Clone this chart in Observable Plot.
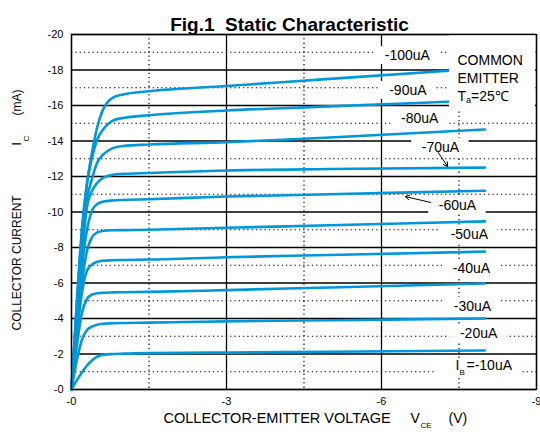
<!DOCTYPE html>
<html><head><meta charset="utf-8">
<script src="https://cdn.jsdelivr.net/npm/d3@7"></script>
<script src="https://cdn.jsdelivr.net/npm/@observablehq/plot@0.6"></script>
<style>body{margin:0;background:#fff;}</style>
</head><body><div id="chart"></div>
<script>
// ---- data ----
const vce   = [0, -0.1, -0.2, -0.3, -0.4, -0.5, -0.6, -0.8, -1.0, -1.5, -3, -5, -8];
const ic10  = [0, -0.5, -0.95, -1.35, -1.65, -1.85, -1.95, -2.0, -2.02, -2.05, -2.08, -2.13, -2.2];
const ic20  = [0, -1.6, -2.8, -3.35, -3.55, -3.65, -3.7, -3.73, -3.75, -3.77, -3.84, -3.9, -4.0];
const ic30  = [0, -2.4, -4.3, -5.1, -5.35, -5.42, -5.45, -5.47, -5.48, -5.5, -5.6, -5.75, -5.97];
const ic40  = [0, -2.9, -5.4, -6.7, -7.05, -7.2, -7.25, -7.28, -7.3, -7.32, -7.45, -7.58, -7.77];
const ic50  = [0, -3.2, -6.0, -7.8, -8.6, -8.85, -8.93, -8.97, -8.98, -9.0, -9.11, -9.25, -9.47];
const ic60  = [0, -3.6, -6.8, -9.0, -10.1, -10.45, -10.58, -10.65, -10.68, -10.72, -10.87, -11.0, -11.2];
const ic70  = [0, -4.0, -7.5, -10.3, -11.2, -11.65, -11.9, -12.1, -12.15, -12.2, -12.34, -12.42, -12.5];
const ic80  = [0, -4.3, -8.0, -10.7, -11.9, -12.8, -13.2, -13.6, -13.72, -13.8, -13.93, -14.2, -14.65];
const ic90  = [0, -4.6, -8.8, -11.6, -13.1, -14.1, -14.6, -15.15, -15.3, -15.45, -15.72, -15.95, -16.3];
const ic100 = [0, -4.8, -9.0, -11.6, -13.4, -14.8, -15.7, -16.45, -16.62, -16.8, -17.1, -17.5, -18.1];
const seriesNames = ["-10uA","-20uA","-30uA","-40uA","-50uA","-60uA","-70uA","-80uA","-90uA","-100uA"];
const seriesValues = [ic10, ic20, ic30, ic40, ic50, ic60, ic70, ic80, ic90, ic100];

const xTicks = [0, -3, -6, -9];
const xMinor = [-1.5, -4.5, -7.5];
const yTicks = [0, -2, -4, -6, -8, -10, -12, -14, -16, -18, -20];
const yMinor = [-1, -3, -5, -7, -9, -11, -13, -15, -17, -19];

const labelText = ["-100uA","-90uA","-80uA","-70uA","-60uA","-50uA","-40uA","-30uA","-20uA"];
const labelV    = [-6.50, -6.51, -6.74, -7.14, -7.47, -7.70, -7.74, -7.76, -7.88];
const labelI    = [-18.82, -16.85, -15.27, -13.63, -10.37, -8.73, -6.82, -4.68, -3.15];

const arrowFromV = [-7.10, -6.95];
const arrowFromI = [-13.35, -10.54];
const arrowToV   = [-7.28, -6.46];
const arrowToI   = [-12.56, -10.87];

const titleText = "Fig.1\u00a0\u00a0Static Characteristic";
// ---- build ----
const table = seriesNames.flatMap((name, k) => vce.map((v, j) => ({ib: name, v, i: seriesValues[k][j]})));
const W = 540, H = 434, mL = 71, mR = 4, mT = 34, mB = 45;
const xk = (W - mL - mR) / 9, yk = (H - mT - mB) / 20;
const FONT = "'Liberation Sans', Arial, Helvetica, sans-serif";
const ctx = document.createElement("canvas").getContext("2d");
ctx.font = "14px " + FONT;
const bg = labelText.map((t, k) => {
  const hw = ctx.measureText(t).width / 2 + 10;
  return {x1: labelV[k] + hw / xk, x2: labelV[k] - hw / xk, y1: labelI[k] + 9 / yk, y2: labelI[k] - 9 / yk};
});
// IB=-10uA label background and the COMMON EMITTER box
bg.push({x1: -(435 - mL) / xk, x2: -(522 - mL) / xk, y1: -(389 - 378) / yk, y2: -(389 - 360) / yk});
bg.push({x1: -(449 - mL) / xk, x2: -(535 - mL) / xk, y1: -(389 - 35) / yk, y2: -(389 - 110) / yk});
const arrows = arrowFromV.map((v, k) => ({x1: v, y1: arrowFromI[k], x2: arrowToV[k], y2: arrowToI[k]}));

const fmt = d => d === 0 ? "-0" : String(d);
const T = (s, o) => Plot.text([s], {text: d => d, fill: "black", ...o});

const chart = Plot.plot({
  width: W, height: H,
  marginLeft: mL, marginRight: mR, marginTop: mT, marginBottom: mB,
  style: {fontFamily: FONT, fontSize: "11px", background: "white", color: "black"},
  x: {domain: [0, -9]},
  y: {domain: [0, -20]},
  marks: [
    Plot.ruleY(yMinor, {stroke: "black", strokeDasharray: "1.3,3", strokeWidth: 1.2}),
    Plot.ruleX(xMinor, {stroke: "black", strokeDasharray: "1.3,3", strokeWidth: 1.2}),
    Plot.ruleY(yTicks, {stroke: "black", strokeWidth: 1.3}),
    Plot.ruleX(xTicks, {stroke: "black", strokeWidth: 1.3}),
    Plot.line(table, {x: "v", y: "i", z: "ib", stroke: "#0096da", strokeWidth: 2.6, curve: "monotone-x"}),
    Plot.rect(bg, {x1: "x1", x2: "x2", y1: "y1", y2: "y2", fill: "white"}),
    Plot.frame({stroke: "black", strokeWidth: 1.3}),
    Plot.axisX({ticks: xTicks, tickSize: 0, tickPadding: 8, tickFormat: fmt, fontSize: 11, label: null}),
    Plot.axisY({ticks: yTicks, tickSize: 0, tickPadding: 8, tickFormat: fmt, fontSize: 11, label: null}),
    Plot.text(labelText, {x: (d, k) => labelV[k], y: (d, k) => labelI[k], text: d => d, fontSize: 14, fill: "black"}),
    Plot.arrow(arrows, {x1: "x1", y1: "y1", x2: "x2", y2: "y2", stroke: "black", strokeWidth: 1, headLength: 7}),
    // IB = -10uA
    T("I", {frameAnchor: "bottom-right", dx: -81, dy: -20, fontSize: 14, textAnchor: "start"}),
    T("B", {frameAnchor: "bottom-right", dx: -77, dy: -15, fontSize: 8, textAnchor: "start"}),
    T("=-10uA", {frameAnchor: "bottom-right", dx: -70, dy: -20, fontSize: 14, textAnchor: "start"}),
    // COMMON EMITTER Ta=25℃
    T("COMMON", {frameAnchor: "top-right", dx: -79, dy: 21, fontSize: 14, textAnchor: "start"}),
    T("EMITTER", {frameAnchor: "top-right", dx: -79, dy: 39, fontSize: 14, textAnchor: "start"}),
    T("T", {frameAnchor: "top-right", dx: -79, dy: 57, fontSize: 14, textAnchor: "start"}),
    T("a", {frameAnchor: "top-right", dx: -70.5, dy: 62, fontSize: 9, textAnchor: "start"}),
    T("=25\u2103", {frameAnchor: "top-right", dx: -65.5, dy: 57, fontSize: 14, textAnchor: "start"}),
    // title
    T(titleText, {frameAnchor: "top", dx: -14.5, dy: -17, fontSize: 19, fontWeight: "bold"}),
    // x label
    T("COLLECTOR-EMITTER VOLTAGE", {frameAnchor: "bottom-left", dx: 92, dy: 33, fontSize: 14.5, textAnchor: "start"}),
    T("V", {frameAnchor: "bottom-left", dx: 339, dy: 33, fontSize: 14, textAnchor: "start"}),
    T("CE", {frameAnchor: "bottom-left", dx: 349, dy: 38, fontSize: 8, textAnchor: "start"}),
    T("(V)", {frameAnchor: "bottom-left", dx: 377, dy: 33, fontSize: 14, textAnchor: "start"}),
    // y label
    T("COLLECTOR CURRENT", {frameAnchor: "bottom-left", dx: -51, dy: -59, fontSize: 12, rotate: -90, textAnchor: "start"}),
    T("I", {frameAnchor: "bottom-left", dx: -51, dy: -244, fontSize: 12, rotate: -90, textAnchor: "start"}),
    T("C", {frameAnchor: "bottom-left", dx: -43, dy: -248, fontSize: 8, rotate: -90, textAnchor: "start"}),
    T("(mA)", {frameAnchor: "bottom-left", dx: -51, dy: -274, fontSize: 12, rotate: -90, textAnchor: "start"})
  ]
});
document.getElementById("chart").append(chart);
</script>
</body></html>
